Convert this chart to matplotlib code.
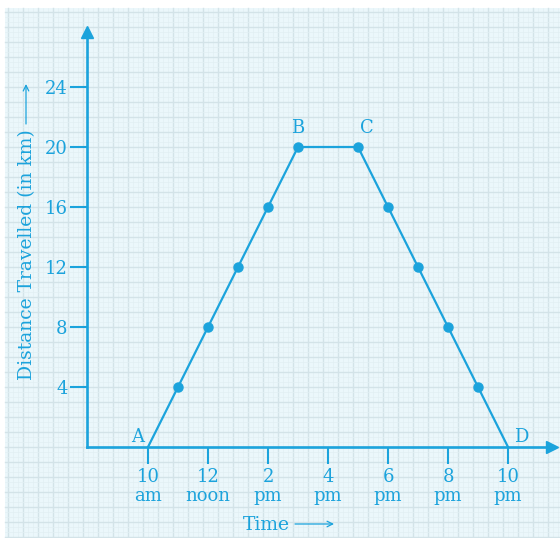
import numpy as np
import matplotlib.pyplot as plt
from matplotlib.lines import Line2D
from matplotlib.patches import Rectangle

# hours after 10 am, distance in km
hours = [0, 1, 2, 3, 4, 5, 7, 8, 9, 10, 11, 12]
distance = [0, 4, 8, 12, 16, 20, 20, 16, 12, 8, 4, 0]
tick_hours = [0, 2, 4, 6, 8, 10, 12]
tick_labels = ["10\nam", "12\nnoon", "2\npm", "4\npm", "6\npm", "8\npm", "10\npm"]
y_ticks = [4, 8, 12, 16, 20, 24]
point_names = ["A", "B", "C", "D"]
point_idx = [0, 5, 6, 11]

blue = "#1ba3dc"
W, H = 560, 538

fig = plt.figure(figsize=(W / 100, H / 100), dpi=100)
fig.patch.set_facecolor("white")

# graph paper background
fig.add_artist(Rectangle((5 / W, 0), 1, 1 - 8 / H, transform=fig.transFigure,
                         facecolor="#ebf7fb", edgecolor="none", zorder=0))
for px in np.arange(8, W, 5):
    c, lw = ("#d3e3e8", 1.0) if (px - 8) % 15 == 0 else ("#e2eff3", 0.5)
    fig.add_artist(Line2D([px / W, px / W], [0, 1 - 8 / H], transform=fig.transFigure,
                          color=c, lw=lw, zorder=0.5))
for py in np.arange(12, H, 5):
    c, lw = ("#d3e3e8", 1.0) if (py - 12) % 15 == 0 else ("#e2eff3", 0.5)
    fig.add_artist(Line2D([5 / W, 1], [1 - py / H, 1 - py / H], transform=fig.transFigure,
                          color=c, lw=lw, zorder=0.5))

ax = fig.add_axes([0, 0, 1, 1])
ax.set_zorder(2)
ax.patch.set_alpha(0)
# pixel mapping: x = 148 + 30*h, y = 447 - 15*d
ax.set_xlim(-148 / 30, (W - 148) / 30)
ax.set_ylim((447 - H) / 15, 447 / 15)

x0 = (87 - 148) / 30
xend = (552 - 148) / 30
yend = (447 - 32) / 15

for s in ["top", "right"]:
    ax.spines[s].set_visible(False)
ax.spines["left"].set_position(("data", x0))
ax.spines["bottom"].set_position(("data", 0))
ax.spines["left"].set_bounds(0, yend)
ax.spines["bottom"].set_bounds(x0, xend)
for s in ["left", "bottom"]:
    ax.spines[s].set_color(blue)
    ax.spines[s].set_linewidth(1.9)
ax.plot([x0], [yend], marker="^", color=blue, ms=9, clip_on=False)
ax.plot([xend], [0], marker=">", color=blue, ms=9, clip_on=False)

font = ["DejaVu Serif", "DejaVu Sans"]
ax.set_xticks(tick_hours)
ax.set_xticklabels(tick_labels, family=font, fontsize=13, color=blue, linespacing=1.05)
ax.set_yticks(y_ticks)
ax.set_yticklabels([str(v) for v in y_ticks], family=font, fontsize=13, color=blue)
ax.tick_params(axis="both", direction="out", length=12, width=1.5, color=blue)
ax.tick_params(axis="x", pad=3)
ax.tick_params(axis="y", pad=2)

ax.plot(hours, distance, color=blue, lw=1.6, zorder=3)
ax.plot(hours[1:-1], distance[1:-1], "o", color=blue, ms=6.5, zorder=4)

offsets = [(-0.35, 0.65), (0, 1.25), (0.3, 1.25), (0.45, 0.65)]
for name, i, (dx, dy) in zip(point_names, point_idx, offsets):
    ax.text(hours[i] + dx, distance[i] + dy, name, family=font, fontsize=13,
            color=blue, ha="center", va="center")

# axis titles with long thin arrows
fig.text(290 / W, 1 - 525 / H, "Time", family=font, fontsize=13.5,
         color=blue, ha="right", va="center")
fig.add_artist(plt.Annotation("", xy=(334 / W, 1 - 524 / H), xytext=(295 / W, 1 - 524 / H),
                              xycoords=fig.transFigure, textcoords=fig.transFigure,
                              arrowprops=dict(arrowstyle="->", color=blue, lw=0.9,
                                              shrinkA=0, shrinkB=0)))
fig.text(27 / W, 1 - 380 / H, "Distance Travelled (in km)", family=font,
         fontsize=13.5, color=blue, ha="center", va="bottom", rotation=90)
fig.add_artist(plt.Annotation("", xy=(26 / W, 1 - 84 / H), xytext=(26 / W, 1 - 124 / H),
                              xycoords=fig.transFigure, textcoords=fig.transFigure,
                              arrowprops=dict(arrowstyle="->", color=blue, lw=0.9,
                                              shrinkA=0, shrinkB=0)))

fig.savefig("out.png", dpi=100)
